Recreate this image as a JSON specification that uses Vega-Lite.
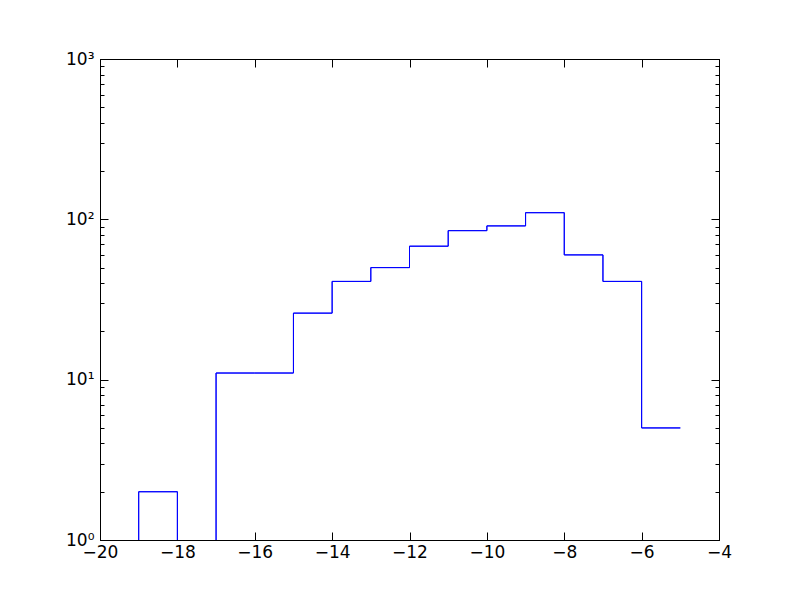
{
  "$schema": "https://vega.github.io/schema/vega-lite/v6.json",
  "autosize": "none",
  "width": 619,
  "height": 481,
  "padding": {"left": 100, "top": 59, "right": 81, "bottom": 60},
  "background": "white",
  "config": {
    "view": {"stroke": "black", "strokeWidth": 1},
    "axis": {"domainColor": "black", "tickColor": "black", "labelColor": "black", "labelFont": "DejaVu Sans", "labelFontSize": 17, "labelFlush": false, "grid": false, "title": null, "tickWidth": 1, "domainWidth": 1}
  },
  "data": {"values": [
    {"edge": -19, "count": 0.5},
    {"edge": -19, "count": 2},
    {"edge": -18, "count": 0.5},
    {"edge": -17, "count": 11},
    {"edge": -16, "count": 11},
    {"edge": -15, "count": 26},
    {"edge": -14, "count": 41},
    {"edge": -13, "count": 50},
    {"edge": -12, "count": 68},
    {"edge": -11, "count": 85},
    {"edge": -10, "count": 91},
    {"edge": -9, "count": 110},
    {"edge": -8, "count": 60},
    {"edge": -7, "count": 41},
    {"edge": -6, "count": 5},
    {"edge": -5, "count": 5}
  ]},
  "layer": [
    {
      "mark": {"type": "line", "interpolate": "step-after", "color": "#0000ff", "strokeWidth": 1, "clip": true},
      "encoding": {
        "x": {"field": "edge", "type": "quantitative", "scale": {"domain": [-20, -4], "nice": false, "zero": false},
          "axis": {"orient": "bottom", "values": [-20, -18, -16, -14, -12, -10, -8, -6, -4], "tickSize": -8, "labelPadding": 12, "labelFontSize": 17, "labelFlush": false, "labelExpr": "replace(format(datum.value, 'd'), '-', '−')"}},
        "y": {"field": "count", "type": "quantitative", "scale": {"type": "log", "domain": [1, 1000], "nice": false},
          "axis": {"orient": "left", "values": [1,2,3,4,5,6,7,8,9,10,20,30,40,50,60,70,80,90,100,200,300,400,500,600,700,800,900,1000],
            "tickSize": {"condition": {"test": "datum.value == 1 || datum.value == 10 || datum.value == 100 || datum.value == 1000", "value": -8}, "value": -4},
            "labelPadding": 14, "labelFontSize": 17, "labelFlush": false,
            "labelExpr": "datum.value == 1 ? '10⁰' : datum.value == 10 ? '10¹' : datum.value == 100 ? '10²' : datum.value == 1000 ? '10³' : ''"}}
      }
    },
    {
      "mark": {"type": "line", "interpolate": "step-after", "color": "#0000ff", "strokeWidth": 1, "clip": true},
      "encoding": {
        "x": {"field": "edge", "type": "quantitative", "scale": {"domain": [-20, -4], "nice": false, "zero": false},
          "axis": {"orient": "top", "values": [-20, -18, -16, -14, -12, -10, -8, -6, -4], "tickSize": -8, "labels": false}},
        "y": {"field": "count", "type": "quantitative", "scale": {"type": "log", "domain": [1, 1000], "nice": false},
          "axis": {"orient": "right", "values": [1,2,3,4,5,6,7,8,9,10,20,30,40,50,60,70,80,90,100,200,300,400,500,600,700,800,900,1000],
            "tickSize": {"condition": {"test": "datum.value == 1 || datum.value == 10 || datum.value == 100 || datum.value == 1000", "value": -8}, "value": -4},
            "labels": false}}
      }
    }
  ],
  "resolve": {"axis": {"x": "independent", "y": "independent"}}
}
